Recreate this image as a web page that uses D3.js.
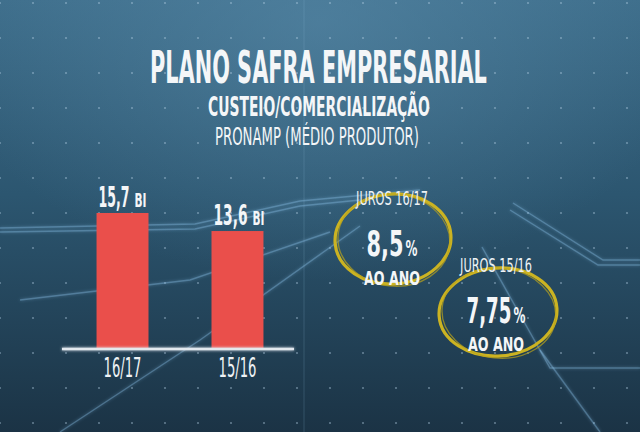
<!DOCTYPE html>
<html>
<head>
<meta charset="utf-8">
<script src="https://cdn.jsdelivr.net/npm/d3@7"></script>
<style>
  html, body { margin: 0; padding: 0; background: #24465c; }
  svg { display: block; }
</style>
</head>
<body>
<svg id="chart" width="640" height="432"></svg>
<script>
// ---- data ----
const categories = ["16/17", "15/16"];
const values = [15.7, 13.6];
const valueLabels = ["15,7", "13,6"];
const unitLabel = "BI";
const rateTitles = ["JUROS 16/17", "JUROS 15/16"];
const rateValues = ["8,5", "7,75"];
const rateUnit = "AO ANO";
const titleLines = ["PLANO SAFRA EMPRESARIAL", "CUSTEIO/COMERCIALIZAÇÃO", "PRONAMP (MÉDIO PRODUTOR)"];

const FONT = "'DejaVu Sans Condensed','Liberation Sans Narrow','Roboto',sans-serif";
const W = 640, H = 432;
const svg = d3.select("#chart");
const defs = svg.append("defs");

// fit a text horizontally to a given width, starting at x (or centred), baseline y
function place(sel, x, y, width, anchor) {
  sel.each(function (d, i) {
    const t = d3.select(this).attr("x", 0).attr("y", 0).attr("text-anchor", anchor || "start");
    const w = this.getComputedTextLength();
    const tw = typeof width === "function" ? width(d, i) : width;
    const tx = typeof x === "function" ? x(d, i) : x;
    const ty = typeof y === "function" ? y(d, i) : y;
    t.attr("transform", `translate(${tx},${ty}) scale(${tw / w},1)`);
  });
  return sel;
}

// background gradients
const lg = defs.append("linearGradient").attr("id", "bg").attr("x1", 0).attr("y1", 0).attr("x2", 0).attr("y2", 1);
lg.append("stop").attr("offset", 0).attr("stop-color", "#3d6d8a");
lg.append("stop").attr("offset", 0.45).attr("stop-color", "#2c5670");
lg.append("stop").attr("offset", 1).attr("stop-color", "#1b3345");
const rg = defs.append("radialGradient").attr("id", "hl").attr("cx", 0.5).attr("cy", 0.05).attr("r", 0.6);
rg.append("stop").attr("offset", 0).attr("stop-color", "#5a8cab").attr("stop-opacity", 0.55);
rg.append("stop").attr("offset", 1).attr("stop-color", "#5a8cab").attr("stop-opacity", 0);
const glow = defs.append("filter").attr("id", "glow").attr("filterUnits", "userSpaceOnUse")
  .attr("x", 0).attr("y", 0).attr("width", W).attr("height", H);
glow.append("feGaussianBlur").attr("stdDeviation", 1.6).attr("result", "b");
const fm = glow.append("feMerge");
fm.append("feMergeNode").attr("in", "b");
fm.append("feMergeNode").attr("in", "SourceGraphic");
const soft = defs.append("filter").attr("id", "soft").attr("filterUnits", "userSpaceOnUse")
  .attr("x", 0).attr("y", 0).attr("width", W).attr("height", H);
soft.append("feGaussianBlur").attr("stdDeviation", 0.7);

svg.append("rect").attr("width", W).attr("height", H).attr("fill", "url(#bg)");
svg.append("rect").attr("width", W).attr("height", H).attr("fill", "url(#hl)");

// dot grid
const deco = svg.append("g");
const dots = [];
for (let gx = 0; gx <= W; gx += 33) for (let gy = 3; gy <= H; gy += 35) dots.push([gx, gy]);
deco.selectAll("circle.dot").data(dots).join("circle")
  .attr("cx", d => d[0]).attr("cy", d => d[1]).attr("r", 1.1)
  .attr("fill", "#b9d3e6").attr("opacity", 0.45);

// faint vertical line
deco.append("line").attr("x1", 304).attr("x2", 304).attr("y1", 0).attr("y2", H)
  .attr("stroke", "#8fb6d3").attr("stroke-opacity", 0.22).attr("stroke-width", 1);

// glowing circuit lines
const line = d3.line();
const paths = [
  [[0, 228], [195, 224], [300, 201], [420, 190]],
  [[0, 232], [195, 229], [300, 206], [360, 200]],
  [[60, 432], [200, 340], [360, 226]],
  [[20, 300], [190, 280], [330, 232]],
  [[513, 203], [603, 260], [640, 260]],
  [[510, 210], [598, 265], [640, 265]],
  [[482, 247], [550, 368], [640, 368]],
  [[540, 350], [600, 432]]
];
deco.selectAll("path.glowline").data(paths).join("path")
  .attr("d", d => line(d)).attr("fill", "none")
  .attr("stroke", "#8cc4ea").attr("stroke-opacity", 0.35).attr("stroke-width", 1.4)
  .attr("filter", "url(#glow)");

// ---- titles ----
const titleSpec = [
  { x: 150, y: 83, len: 337, size: 44, weight: "bold" },
  { x: 208, y: 116, len: 222, size: 27, weight: "bold" },
  { x: 215, y: 145, len: 204, size: 25, weight: "normal" }
];
const titles = svg.selectAll("text.title").data(titleLines).join("text")
  .attr("class", "title")
  .attr("font-family", FONT).attr("font-size", (d, i) => titleSpec[i].size)
  .attr("font-weight", (d, i) => titleSpec[i].weight)
  .attr("fill", "#f4f6f8")
  .text(d => d);
place(titles, (d, i) => titleSpec[i].x, (d, i) => titleSpec[i].y, (d, i) => titleSpec[i].len);

// ---- bars ----
const x = d3.scaleBand().domain(categories).range([64, 296]).paddingInner(0.548).paddingOuter(0.283);
const y = d3.scaleLinear().domain([0, 16]).range([348, 348 - 16 * 8.6]);
const data = categories.map((c, i) => ({ c, v: values[i], lbl: valueLabels[i] }));

const bars = svg.append("g");
bars.selectAll("rect.bar").data(data).join("rect")
  .attr("x", d => x(d.c)).attr("y", d => y(d.v))
  .attr("width", x.bandwidth()).attr("height", d => y(0) - y(d.v))
  .attr("fill", "#ea4f4b").attr("filter", "url(#soft)");

// baseline
const [r0, r1] = x.range();
svg.append("line").attr("x1", r0 - 2).attr("x2", r1 - 2).attr("y1", y(0) + 1).attr("y2", y(0) + 1)
  .attr("stroke", "#e2e8ee").attr("stroke-width", 2.5).attr("filter", "url(#glow)");

// value labels
const vals = bars.selectAll("text.val").data(data).join("text")
  .attr("font-family", FONT).attr("font-size", 28).attr("font-weight", "bold")
  .attr("fill", "#f4f6f8").text(d => d.lbl);
place(vals, d => x(d.c) + 2, d => y(d.v) - 6, (d, i) => i === 0 ? 31 : 34);
const units = bars.selectAll("text.unit").data(data).join("text")
  .attr("font-family", FONT).attr("font-size", 19).attr("font-weight", "bold")
  .attr("fill", "#f4f6f8").text(unitLabel);
place(units, (d, i) => x(d.c) + (i === 0 ? 38 : 41), d => y(d.v) - 6, 12);

// category labels
const cats = bars.selectAll("text.cat").data(data).join("text")
  .attr("font-family", FONT).attr("font-size", 26).attr("font-weight", "normal")
  .attr("fill", "#eef2f5").text(d => d.c);
place(cats, d => x(d.c) + x.bandwidth() / 2, 377, 38, "middle");

// ---- rate ellipses ----
const ell = [
  { cx: 393, cy: 239, rx: 58, ry: 45, tx: 392, t1: 205, t2: 256, t3: 285, numLen: 37 },
  { cx: 498, cy: 312, rx: 59, ry: 44, tx: 496, t1: 272, t2: 323, t3: 351, numLen: 45 }
];
const rates = rateTitles.map((t, i) => ({ t, v: rateValues[i], e: ell[i] }));
const rg2 = svg.append("g");
rg2.selectAll("ellipse.main").data(rates).join("ellipse")
  .attr("cx", d => d.e.cx).attr("cy", d => d.e.cy).attr("rx", d => d.e.rx).attr("ry", d => d.e.ry)
  .attr("fill", "none").attr("stroke", "#cbb322").attr("stroke-width", 3.2)
  .attr("transform", d => `rotate(-4 ${d.e.cx} ${d.e.cy})`);
rg2.selectAll("ellipse.sec").data(rates).join("ellipse")
  .attr("cx", d => d.e.cx + 1).attr("cy", d => d.e.cy + 1).attr("rx", d => d.e.rx - 2).attr("ry", d => d.e.ry + 1)
  .attr("fill", "none").attr("stroke", "#b8a21c").attr("stroke-width", 1.3).attr("stroke-opacity", 0.7)
  .attr("transform", d => `rotate(6 ${d.e.cx} ${d.e.cy})`);

const rt = rg2.selectAll("text.rt").data(rates).join("text")
  .attr("font-family", FONT).attr("font-size", 19).attr("font-weight", "normal")
  .attr("fill", "#eef2f5").text(d => d.t);
place(rt, d => d.e.tx, d => d.e.t1, 72, "middle");
const rv = rg2.selectAll("text.rv").data(rates).join("text")
  .attr("font-family", FONT).attr("font-size", 35).attr("font-weight", "bold")
  .attr("fill", "#f4f6f8").text(d => d.v);
place(rv, d => d.e.tx - 7 - d.e.numLen / 2, d => d.e.t2, d => d.e.numLen);
const rp = rg2.selectAll("text.rp").data(rates).join("text")
  .attr("font-family", FONT).attr("font-size", 22).attr("font-weight", "bold")
  .attr("fill", "#f4f6f8").text("%");
place(rp, d => d.e.tx - 5 + d.e.numLen / 2, d => d.e.t2, 12);
const ra = rg2.selectAll("text.ra").data(rates).join("text")
  .attr("font-family", FONT).attr("font-size", 20).attr("font-weight", "bold")
  .attr("fill", "#f4f6f8").text(rateUnit);
place(ra, d => d.e.tx, d => d.e.t3, 56, "middle");
</script>
</body>
</html>
